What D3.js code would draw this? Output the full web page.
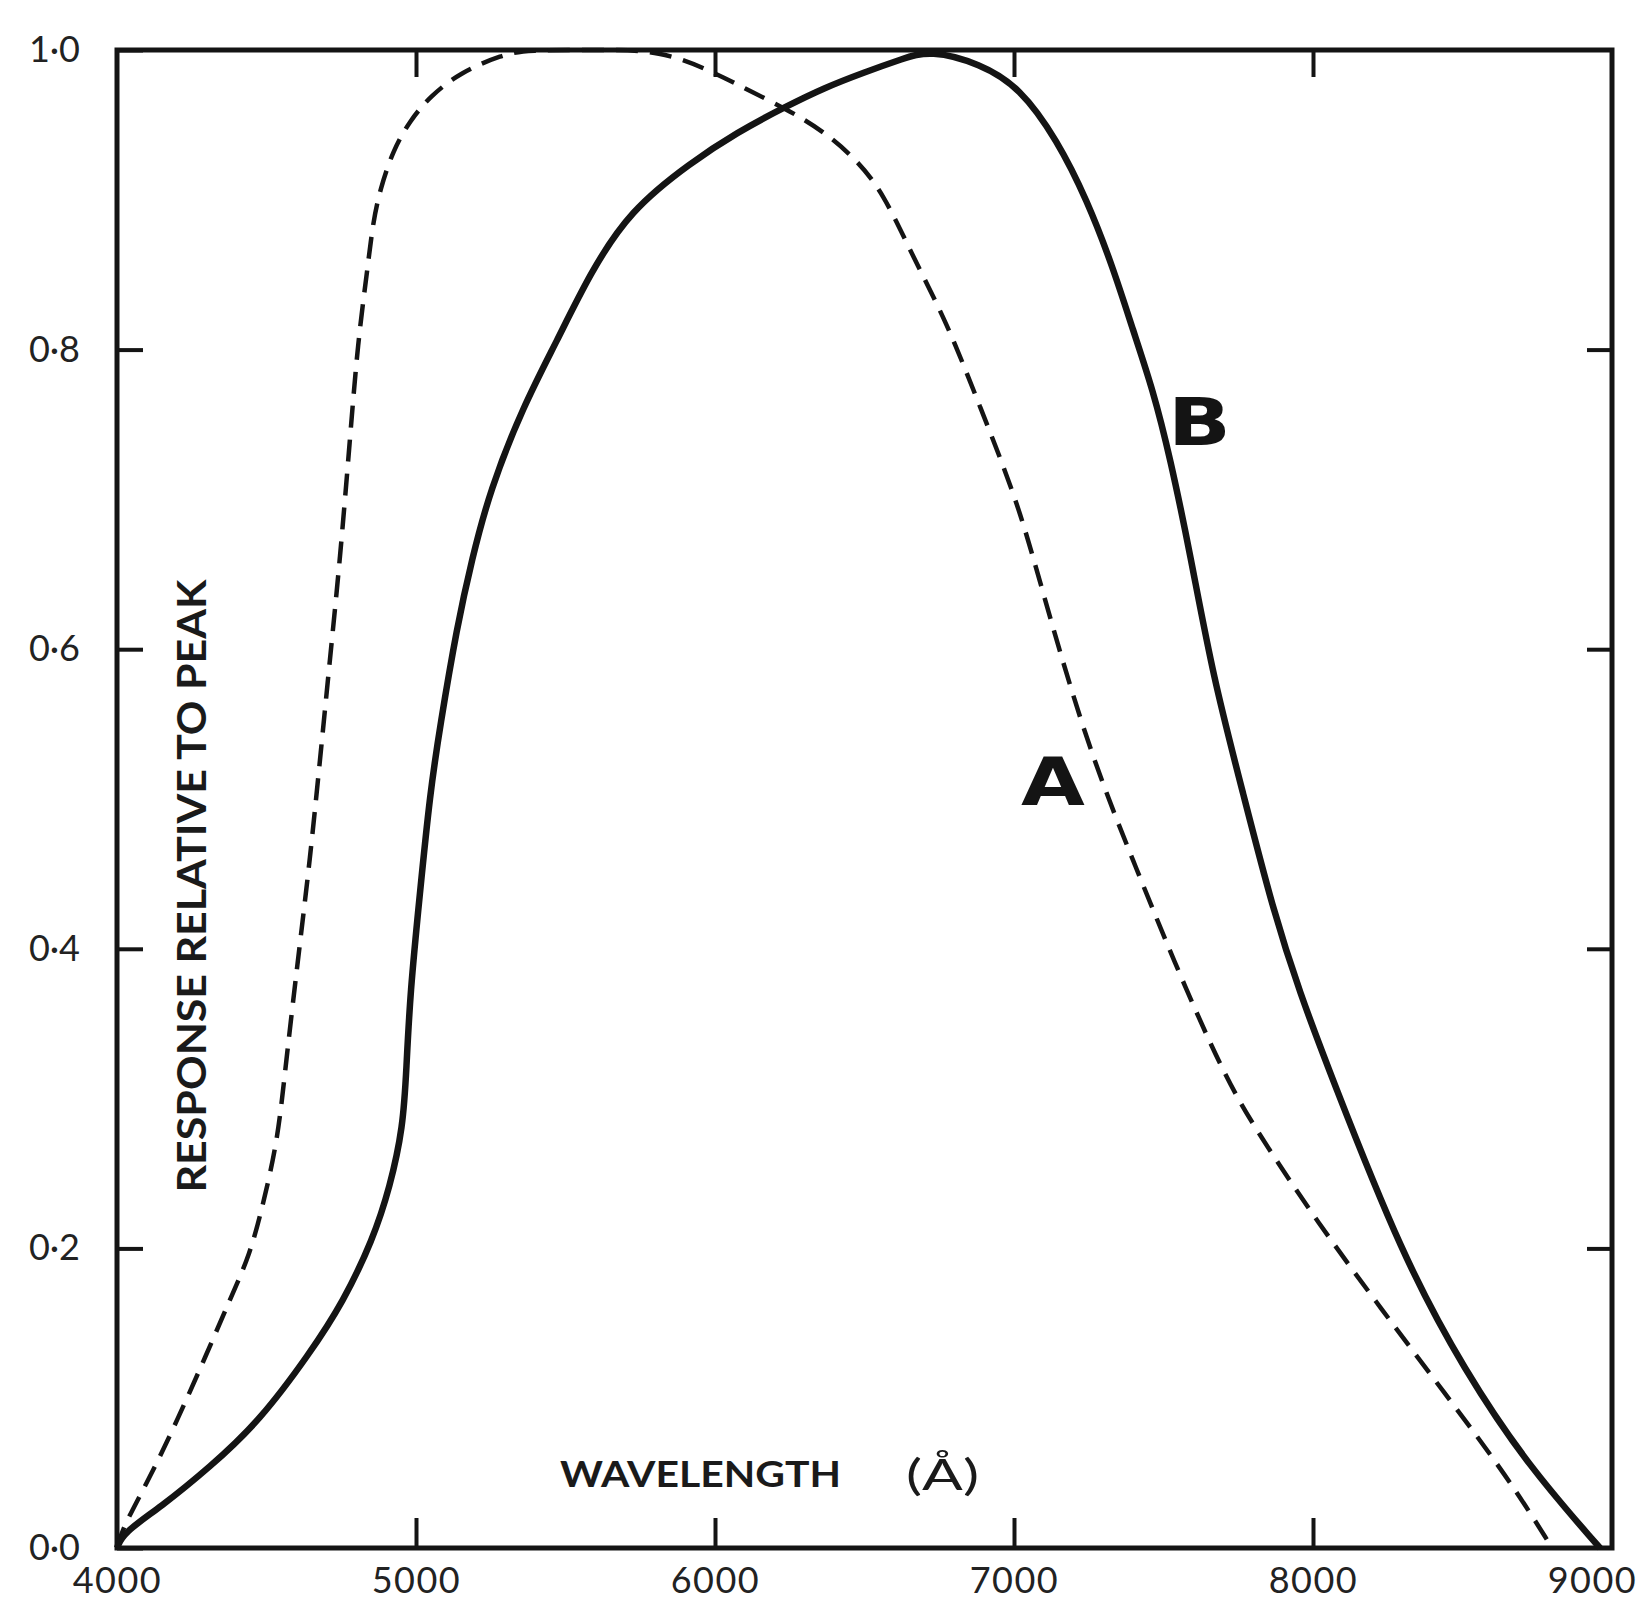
<!DOCTYPE html>
<html>
<head>
<meta charset="utf-8">
<script src="https://cdn.jsdelivr.net/npm/d3@7"></script>
<style>
  html, body { margin: 0; padding: 0; background: #fff; }
  svg { display: block; }
</style>
</head>
<body>
<svg id="chart" width="1641" height="1603"></svg>
<script>
// ---- data ----
const wavelengthA = [4000,4020,4110,4201,4301,4378,4445,4488,4535,4559,4579,4612,4645,4679,4712,4746,4779,4806,4836,4856,4880,4923,4980,5047,5147,5291,5371,5600,5819,5997,6114,6254,6368,6472,6562,6662,6776,6886,6997,7064,7144,7264,7398,7532,7699,7809,8020,8227,8438,8649,8800];
const responseA   = [0,0.014,0.047,0.085,0.130,0.166,0.196,0.229,0.270,0.312,0.348,0.404,0.459,0.526,0.593,0.660,0.740,0.806,0.851,0.885,0.907,0.933,0.953,0.969,0.985,0.997,1.0,1.0,1.0,0.985,0.973,0.959,0.945,0.927,0.905,0.862,0.818,0.762,0.706,0.662,0.604,0.526,0.459,0.393,0.317,0.279,0.216,0.160,0.104,0.048,0];

const wavelengthB = [4000,4020,4144,4311,4478,4645,4756,4856,4913,4957,4968,4980,5013,5047,5080,5137,5187,5247,5358,5472,5582,5716,5920,6074,6234,6368,6498,6625,6720,6886,7020,7144,7244,7331,7398,7465,7522,7589,7666,7766,7866,7957,8057,8298,8508,8719,8960];
const responseB   = [0,0.010,0.027,0.054,0.085,0.130,0.164,0.206,0.241,0.281,0.320,0.370,0.437,0.504,0.548,0.615,0.660,0.706,0.762,0.806,0.851,0.893,0.925,0.945,0.962,0.975,0.985,0.994,1.0,0.991,0.975,0.940,0.900,0.855,0.813,0.773,0.728,0.664,0.581,0.504,0.426,0.370,0.317,0.195,0.118,0.055,0];

const xTickValues = [4000,5000,6000,7000,8000,9000];
const xInnerTicks = [5000,6000,7000,8000];
const yTickValues = [0,0.2,0.4,0.6,0.8,1.0];
const yInnerTicks = [0.2,0.4,0.6,0.8];
const yTickLabels = ["0·0","0·2","0·4","0·6","0·8","1·0"];
const curveLabels = [{name:"A", wl:7130, r:0.512},{name:"B", wl:7620, r:0.752}];

// ---- layout ----
const M = { left: 117, right: 1612, top: 50, bottom: 1548 };
const svg = d3.select("#chart");
const ink = "#141414";

const x = d3.scaleLinear().domain([4000, 9000]).range([M.left, M.right]);
const y = d3.scaleLinear().domain([0, 1]).range([M.bottom, M.top]);

// frame
svg.append("rect")
  .attr("x", M.left).attr("y", M.top)
  .attr("width", M.right - M.left).attr("height", M.bottom - M.top)
  .attr("fill", "none").attr("stroke", ink).attr("stroke-width", 5);

function styleAxis(g) {
  g.select(".domain").remove();
  g.selectAll(".tick line").attr("stroke", ink).attr("stroke-width", 4);
  g.selectAll(".tick text")
    .attr("fill", "#222")
    .style("font-family", "Lato, 'Open Sans', sans-serif")
    .style("font-size", "36px");
}

// left axis with labels
svg.append("g")
  .attr("transform", `translate(${M.left},0)`)
  .call(d3.axisLeft(y).tickValues(yTickValues).tickSizeInner(-26).tickSizeOuter(0).tickPadding(37)
        .tickFormat((d, i) => yTickLabels[i]))
  .call(styleAxis);

// bottom axis with labels
const bottomAxis = svg.append("g")
  .attr("transform", `translate(0,${M.bottom})`)
  .call(d3.axisBottom(x).tickValues(xTickValues).tickSizeInner(-30).tickSizeOuter(0).tickPadding(19)
        .tickFormat(d3.format("d")))
  .call(styleAxis);
bottomAxis.selectAll(".tick text").attr("letter-spacing", "1.5px");
bottomAxis.selectAll(".tick").filter(d => d === 4000 || d === 9000).select("line").remove();
bottomAxis.selectAll(".tick").filter(d => d === 9000).select("text").attr("dx", "-20");

// top and right inward ticks
svg.append("g")
  .attr("transform", `translate(0,${M.top})`)
  .call(d3.axisTop(x).tickValues(xInnerTicks).tickSizeInner(-27).tickSizeOuter(0).tickFormat(""))
  .call(styleAxis);
svg.append("g")
  .attr("transform", `translate(${M.right},0)`)
  .call(d3.axisRight(y).tickValues(yInnerTicks).tickSizeInner(-25).tickSizeOuter(0).tickFormat(""))
  .call(styleAxis);

// curves
const line = d3.line()
  .x(d => x(d[0])).y(d => y(d[1]))
  .curve(d3.curveBasis);

const seriesA = wavelengthA.map((w, i) => [w, responseA[i]]);
const seriesB = wavelengthB.map((w, i) => [w, responseB[i]]);

svg.append("path")
  .datum(seriesA)
  .attr("d", line)
  .attr("fill", "none").attr("stroke", ink)
  .attr("stroke-width", 4.5)
  .attr("stroke-dasharray", "22 12");

svg.append("path")
  .datum(seriesB)
  .attr("d", line)
  .attr("fill", "none").attr("stroke", ink)
  .attr("stroke-width", 6.5)
  .attr("stroke-linejoin", "round");

// curve labels
svg.selectAll(".curve-label")
  .data(curveLabels)
  .join("text")
  .attr("class", "curve-label")
  .attr("transform", d => `translate(${x(d.wl)},${y(d.r)}) scale(1.25,1)`)
  .attr("text-anchor", "middle")
  .attr("dy", "0.36em")
  .attr("fill", ink)
  .style("font-family", "'DejaVu Sans', sans-serif")
  .style("font-weight", "bold")
  .style("font-size", "66px")
  .text(d => d.name);

// axis titles
svg.append("text")
  .attr("x", 560).attr("y", 1487)
  .attr("textLength", 281).attr("lengthAdjust", "spacingAndGlyphs")
  .attr("fill", "#1a1a1a")
  .style("font-family", "Lato, sans-serif")
  .style("font-weight", "bold")
  .style("font-size", "37px")
  .text("WAVELENGTH");

svg.append("text")
  .attr("x", 906).attr("y", 1490)
  .attr("textLength", 73).attr("lengthAdjust", "spacingAndGlyphs")
  .attr("fill", "#1a1a1a")
  .style("font-family", "Lato, sans-serif")
  .style("font-size", "42px")
  .text("(Å)");

svg.append("text")
  .attr("transform", "translate(206,886) rotate(-90)")
  .attr("text-anchor", "middle")
  .attr("textLength", 613).attr("lengthAdjust", "spacingAndGlyphs")
  .attr("fill", "#1a1a1a")
  .style("font-family", "Lato, sans-serif")
  .style("font-weight", "bold")
  .style("font-size", "41px")
  .text("RESPONSE RELATIVE TO PEAK");
</script>
</body>
</html>
